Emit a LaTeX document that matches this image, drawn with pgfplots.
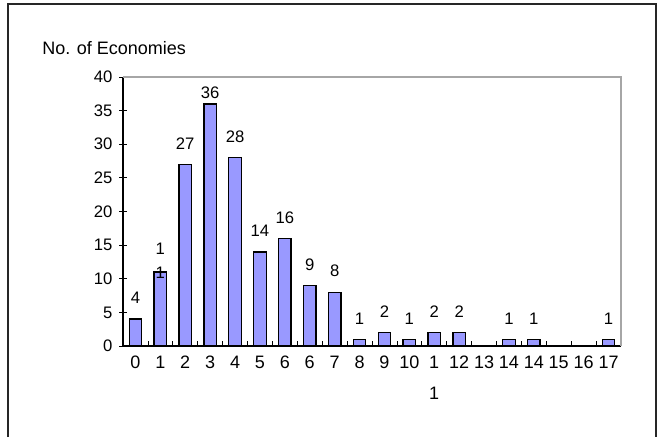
\documentclass[border=0pt]{standalone}
\usepackage{pgfplots}
\pgfplotsset{compat=1.18}
\usepackage{pgfplotstable}
\usepackage{fontspec}
\setmainfont{Liberation Sans}

\definecolor{barfill}{RGB}{153,153,255}

% values per class; label column holds the data label text
\pgfplotstableread[col sep=comma]{
x,n,lab
0,4,4
1,11,{\raisebox{-16pt}[\height][0pt]{\shortstack{1\\[6pt]1}}}
2,27,27
3,36,{\raisebox{-7.5pt}[\height][0pt]{36}}
4,28,28
5,14,14
6,16,16
7,9,9
8,8,8
9,1,1
10,2,2
11,1,1
12,2,2
13,2,2
14,0,{}
15,1,1
16,1,1
17,0,{}
18,0,{}
19,1,1
}\econ

\begin{document}
\begin{tikzpicture}[x=0.75pt,y=0.75pt]
\path[use as bounding box] (0,0) rectangle (658,437);
\draw[line width=1.2pt,black!85] (8,0) -- (8,433) -- (656,433) -- (656,0);
\node[anchor=base west,font=\fontsize{13.5}{16}\selectfont,inner sep=0pt] at (42,383) {No. of Economies};

\begin{axis}[
    at={(92.25pt,68.25pt)}, anchor=south west,
    scale only axis,
    width=373.5pt, height=201.75pt,
    xmin=-0.5, xmax=19.5,
    ymin=0, ymax=40,
    ytick={0,5,...,40},
    xtick={0,...,19},
    xticklabels={0,1,2,3,4,5,6,6,7,8,9,10,1\\[8pt]1,12,13,14,14,15,16,17},
    minor xtick={-0.5,0.5,...,19.5},
    axis x line*=bottom, axis y line*=left,
    axis line style={black, line width=0.9pt},
    xtick pos=bottom, ytick pos=left,
    xtick align=inside, ytick align=center,
    major tick length=6pt,
    minor tick length=4pt,
    x tick style={draw=none},
    minor x tick style={draw=black, line width=0.6pt},
    y tick style={black, line width=0.6pt},
    /pgf/number format/assume math mode=true,
    tick label style={font=\fontsize{12.5}{14.5}\selectfont},
    x tick label style={font=\fontsize{13.5}{15.5}\selectfont, align=center, anchor=north, yshift=-4pt},
    y tick label style={xshift=-1.5pt},
    clip=false,
]
\addplot[ybar, bar width=0.5, fill=barfill, draw=black, line width=1pt,
    nodes near coords, point meta=explicit symbolic,
    every node near coord/.append style={font=\fontsize{12.5}{14.5}\selectfont, anchor=south, yshift=7.5pt, black}]
    table[x=x, y=n, meta=lab] {\econ};
\draw[gray!70, line width=0.9pt] (rel axis cs:0,1) -- (rel axis cs:1,1) -- (rel axis cs:1,0);
\end{axis}
\end{tikzpicture}
\end{document}
